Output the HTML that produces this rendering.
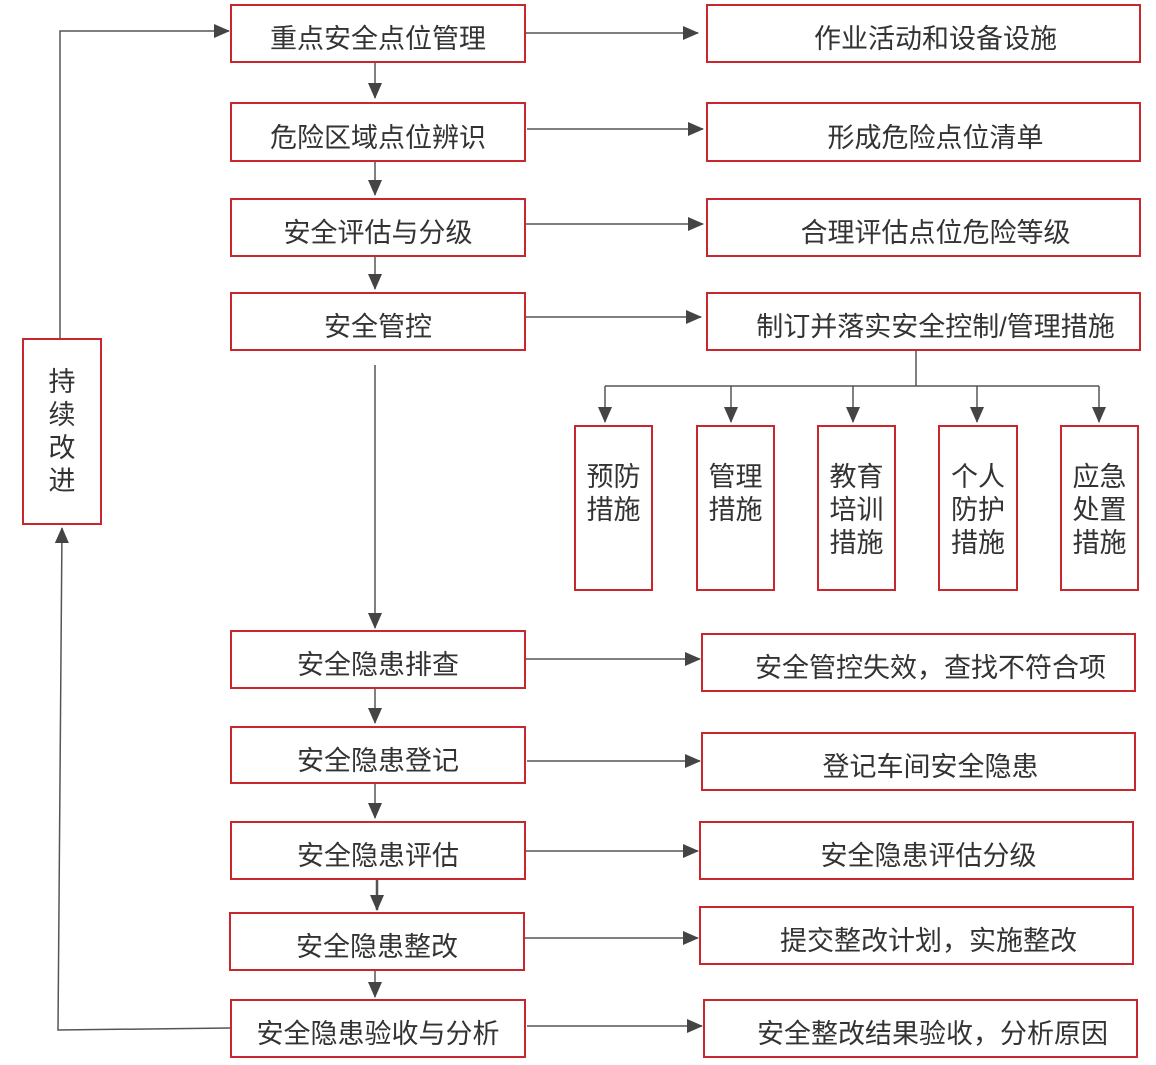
<!DOCTYPE html>
<html><head><meta charset="utf-8"><style>
body{margin:0;width:1156px;height:1065px;background:#fff;position:relative;font-family:"Liberation Sans","Noto Sans CJK SC",sans-serif;color:#333;overflow:hidden}
.b{position:absolute;border:2px solid #c8282d;box-sizing:border-box;display:flex;align-items:center;justify-content:center;font-size:27px;background:#fff;padding-top:6px}
.r{padding-left:24px}
.s{font-size:27px;line-height:33px;text-align:center;align-items:flex-start;padding:34px 6px 0}
svg{position:absolute;left:0;top:0}
</style></head><body>
<svg width="1156" height="1065"><defs><marker id="c" markerWidth="16" markerHeight="14" refX="15" refY="7" orient="auto" markerUnits="userSpaceOnUse"><path d="M0,0L16,7L0,14z" fill="#444"/></marker></defs>
<g stroke="#555" stroke-width="1.5" fill="none">
<path d="M525,33H698" marker-end="url(#c)"/><path d="M527,129H703" marker-end="url(#c)"/><path d="M525,224H703" marker-end="url(#c)"/><path d="M525,317H701" marker-end="url(#c)"/>
<path d="M525,659H700" marker-end="url(#c)"/><path d="M527,761H700" marker-end="url(#c)"/><path d="M525,851H698" marker-end="url(#c)"/><path d="M525,938H698" marker-end="url(#c)"/><path d="M527,1026H702" marker-end="url(#c)"/>
<path d="M375,62V98" marker-end="url(#c)"/><path d="M375,161V195" marker-end="url(#c)"/><path d="M375,256V289" marker-end="url(#c)"/><path d="M375,365V628" marker-end="url(#c)"/><path d="M375,688V723" marker-end="url(#c)"/><path d="M375,783V818" marker-end="url(#c)"/><path d="M377,879V910" marker-end="url(#c)" stroke-width="2.5"/><path d="M375,970V997" marker-end="url(#c)"/>
<path d="M916,350V386M605,386H1099"/>
<path d="M605,386V422" marker-end="url(#c)"/><path d="M731,386V422" marker-end="url(#c)"/><path d="M853,386V422" marker-end="url(#c)"/><path d="M977,386V422" marker-end="url(#c)"/><path d="M1099,386V422" marker-end="url(#c)"/>
<path d="M230,1028L58,1030L62,528" marker-end="url(#c)"/><path d="M60,338V31H229" marker-end="url(#c)"/>
</g></svg>
<div class="b" style="left:230px;top:4px;width:296px;height:59px">重点安全点位管理</div>
<div class="b" style="left:230px;top:102px;width:296px;height:60px">危险区域点位辨识</div>
<div class="b" style="left:230px;top:198px;width:296px;height:59px">安全评估与分级</div>
<div class="b" style="left:230px;top:292px;width:296px;height:59px">安全管控</div>
<div class="b" style="left:230px;top:630px;width:296px;height:59px">安全隐患排查</div>
<div class="b" style="left:230px;top:726px;width:296px;height:58px">安全隐患登记</div>
<div class="b" style="left:230px;top:821px;width:296px;height:59px">安全隐患评估</div>
<div class="b" style="left:229px;top:912px;width:296px;height:59px">安全隐患整改</div>
<div class="b" style="left:230px;top:999px;width:296px;height:59px">安全隐患验收与分析</div>
<div class="b r" style="left:706px;top:4px;width:435px;height:59px">作业活动和设备设施</div>
<div class="b r" style="left:706px;top:102px;width:435px;height:60px">形成危险点位清单</div>
<div class="b r" style="left:706px;top:198px;width:435px;height:59px">合理评估点位危险等级</div>
<div class="b r" style="left:706px;top:292px;width:435px;height:59px">制订并落实安全控制/管理措施</div>
<div class="b r" style="left:701px;top:633px;width:435px;height:59px">安全管控失效，查找不符合项</div>
<div class="b r" style="left:701px;top:732px;width:435px;height:59px">登记车间安全隐患</div>
<div class="b r" style="left:699px;top:821px;width:435px;height:59px">安全隐患评估分级</div>
<div class="b r" style="left:699px;top:906px;width:435px;height:59px">提交整改计划，实施整改</div>
<div class="b r" style="left:703px;top:999px;width:435px;height:59px">安全整改结果验收，分析原因</div>
<div class="b s" style="left:574px;top:425px;width:79px;height:166px">预防<br>措施</div>
<div class="b s" style="left:696px;top:425px;width:79px;height:166px">管理<br>措施</div>
<div class="b s" style="left:817px;top:425px;width:79px;height:166px">教育<br>培训<br>措施</div>
<div class="b s" style="left:938px;top:425px;width:80px;height:166px">个人<br>防护<br>措施</div>
<div class="b s" style="left:1060px;top:425px;width:79px;height:166px">应急<br>处置<br>措施</div>
<div class="b s" style="left:22px;top:338px;width:80px;height:187px;padding-top:26px">持<br>续<br>改<br>进</div>
</body></html>
